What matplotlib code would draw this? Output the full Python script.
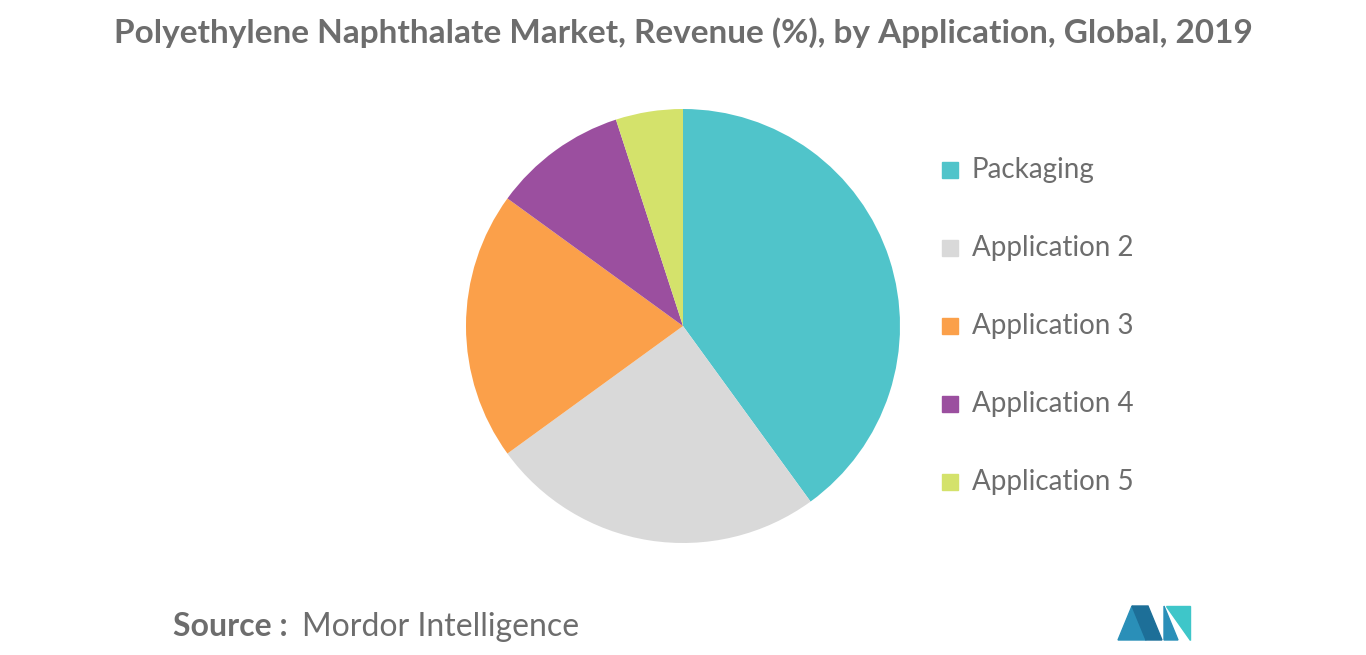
import matplotlib
matplotlib.use("Agg")
from matplotlib import pyplot as plt
from matplotlib.patches import Polygon

labels = ["Packaging", "Application 2", "Application 3", "Application 4", "Application 5"]
shares = [40, 25, 20, 10, 5]
colors = ["#50c4ca", "#d9d9d9", "#fba04a", "#9b4f9f", "#d4e26b"]

fig = plt.figure(figsize=(13.66, 6.55), dpi=100)
fig.patch.set_facecolor("white")

ax = fig.add_axes([683/1366 - 217/1366, 1 - (326 + 217)/655, 434/1366, 434/655])
ax.pie(shares, colors=colors, startangle=90, counterclock=False,
       wedgeprops=dict(linewidth=0))
ax.set_xlim(-1, 1)
ax.set_ylim(-1, 1)
ax.set_aspect("equal")

fig.text(0.5, 1 - 33/655, "Polyethylene Naphthalate Market, Revenue (%), by Application, Global, 2019",
         ha="center", va="center", fontsize=24, fontweight="bold", color="#6d6d6d", family="Lato")

for i, (lab, c) in enumerate(zip(labels, colors)):
    y = 1 - (170 + 78 * i)/655
    fig.patches.append(plt.Rectangle((942/1366, y - 8/655), 16/1366, 16/655,
                                     transform=fig.transFigure, color=c))
    fig.text(972/1366, y, lab, ha="left", va="center", fontsize=20, color="#6d6d6d", family="Lato")

fig.text(173/1366, 1 - 627/655, "Source :", ha="left", va="center", fontsize=23,
         fontweight="bold", color="#6d6d6d", family="Lato")
fig.text(302/1366, 1 - 627/655, "Mordor Intelligence", ha="left", va="center", fontsize=23,
         color="#6d6d6d", family="Lato")

# logo
def px(pts):
    return [(x/1366, 1 - y/655) for x, y in pts]
fig.patches.append(Polygon(px([(1118, 640), (1132, 606), (1146, 640)]), closed=True,
                           transform=fig.transFigure, color="#2a8fb8"))
fig.patches.append(Polygon(px([(1132, 606), (1148, 606), (1162, 640), (1146, 640)]), closed=True,
                           transform=fig.transFigure, color="#1d6f98"))
fig.patches.append(Polygon(px([(1164, 640), (1164, 606), (1178, 640)]), closed=True,
                           transform=fig.transFigure, color="#2a8fb8"))
fig.patches.append(Polygon(px([(1166, 606), (1190, 606), (1190, 640)]), closed=True,
                           transform=fig.transFigure, color="#3ec6c9"))

fig.savefig("out.png", dpi=100, facecolor="white")
